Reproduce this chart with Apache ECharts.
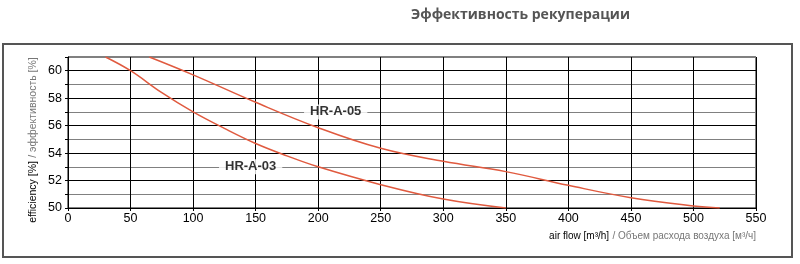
<!DOCTYPE html>
<html><head><meta charset="utf-8">
<script src="https://cdn.jsdelivr.net/npm/echarts@6/dist/echarts.min.js"></script>
<style>html,body{margin:0;padding:0;background:#fff}#c{width:800px;height:264px}</style>
</head><body><div id="c"></div>
<script>
const title = 'Эффективность рекуперации';
const xTicks = [0,50,100,150,200,250,300,350,400,450,500,550];
const yTicks = [50,52,54,56,58,60];
const hr03 = [[30,61],[50,60],[75,58.4],[100,57],[125,55.8],[150,54.7],[175,53.8],[200,53],[250,51.7],[300,50.65],[350,50]];
const hr05 = [[65,61],[100,59.7],[150,57.7],[200,55.85],[250,54.35],[300,53.4],[350,52.65],[400,51.65],[450,50.75],[500,50.15],[521,50]];
const labelNames = ['HR-A-03','HR-A-05'];
const labelPos = [[146,53],[214,57]];

const chart = echarts.init(document.getElementById('c'));
const ff = 'Liberation Sans, Arial, sans-serif';
chart.setOption({
  animation:false,
  title:{text:title,left:406,top:3,textStyle:{fontFamily:'Open Sans, sans-serif',fontSize:14,fontWeight:'bold',color:'#555'}},
  grid:{left:68,right:44,top:57,bottom:56,show:true,borderColor:'#000',borderWidth:1,backgroundColor:'transparent'},
  xAxis:{type:'value',min:0,max:550,interval:50,
    axisLine:{lineStyle:{color:'#000'}},axisTick:{show:true,length:3,inside:false,lineStyle:{color:'#000'}},
    axisLabel:{color:'#000',fontFamily:ff,fontSize:12.5,margin:4},
    splitLine:{show:true,lineStyle:{color:'#000',width:1}}},
  yAxis:{type:'value',min:50,max:61,interval:1,
    axisLine:{show:true,lineStyle:{color:'#000'}},axisTick:{show:true,length:3,lineStyle:{color:'#000'}},
    axisLabel:{color:'#000',fontFamily:ff,fontSize:12.5,margin:6,formatter:v=>yTicks.includes(v)?String(v):''},
    splitLine:{show:true,lineStyle:{color:['#000','#808080'],width:1}}},
  graphic:[
    {type:'rect',shape:{x:3,y:44,width:789,height:213},style:{fill:'none',stroke:'#555',lineWidth:2},z:-1},
    {type:'text',x:33,y:140,rotation:Math.PI/2,style:{
      rich:{a:{fill:'#000',fontFamily:ff,fontSize:10.5},b:{fill:'#777',fontFamily:ff,fontSize:10.5}},
      text:'{a|efficiency [%]} {b|/ эффективность [%]}',align:'center',verticalAlign:'middle'}},
    {type:'text',x:756,y:236,style:{
      rich:{a:{fill:'#000',fontFamily:ff,fontSize:10},b:{fill:'#777',fontFamily:ff,fontSize:10}},
      text:'{a|air flow [m³/h]} {b|/ Объем расхода воздуха [м³/ч]}',align:'right',verticalAlign:'middle'}}
  ],
  series:[
    {type:'line',data:hr03,smooth:0.4,symbol:'none',lineStyle:{color:'#e05a3f',width:1.5},z:3},
    {type:'line',data:hr05,smooth:0.4,symbol:'none',lineStyle:{color:'#e05a3f',width:1.5},z:3},
    {type:'scatter',symbolSize:0,z:5,data:labelPos.map((p,i)=>({value:p,name:labelNames[i]})),
      label:{show:true,position:'inside',formatter:p=>p.name,color:'#000',fontFamily:ff,fontWeight:'bold',fontSize:13,
        backgroundColor:'#fff',padding:[1,6]}}
  ]
});
</script></body></html>
